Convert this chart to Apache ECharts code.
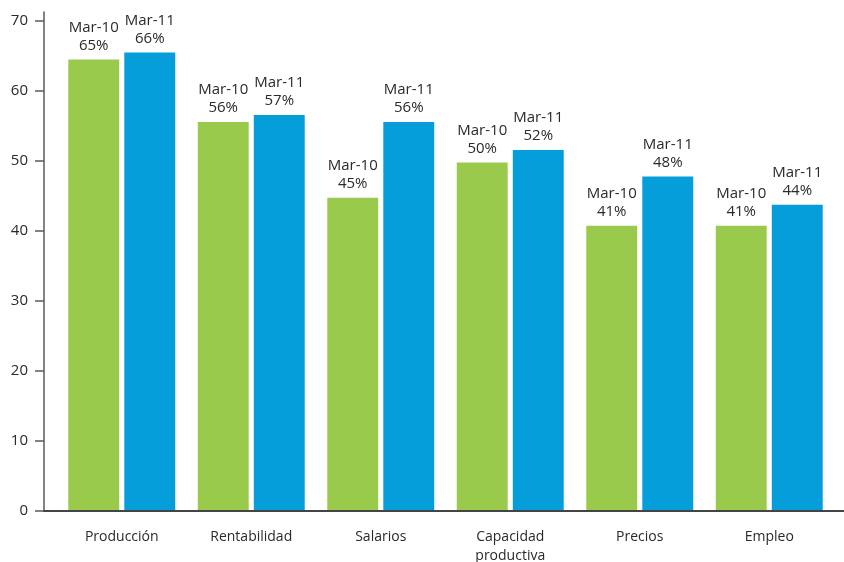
<!DOCTYPE html>
<html>
<head>
<meta charset="utf-8">
<script src="https://cdn.jsdelivr.net/npm/echarts@6/dist/echarts.min.js"></script>
<style>
html,body{margin:0;padding:0;background:#fff;}
#chart{width:844px;height:562px;}
</style>
</head>
<body>
<div id="chart"></div>
<script>
// Data
const categories = ['Producción', 'Rentabilidad', 'Salarios', 'Capacidad\nproductiva', 'Precios', 'Empleo'];
const seriesNames = ['Mar-10', 'Mar-11'];
const valuesMar10 = [64.4, 55.5, 44.7, 49.7, 40.7, 40.7];
const valuesMar11 = [65.4, 56.5, 55.5, 51.5, 47.7, 43.7];
const labelsMar10 = ['65%', '56%', '45%', '50%', '41%', '41%'];
const labelsMar11 = ['66%', '57%', '56%', '52%', '48%', '44%'];
const yTicks = { min: 0, max: 70, interval: 10 };

const FONT = '"Open Sans", "Noto Sans", sans-serif';
const TEXT = '#2a2a2a';

function barLabel(name, labels) {
  return {
    show: true,
    position: 'top',
    distance: 5,
    fontFamily: FONT,
    fontSize: 15,
    lineHeight: 18,
    color: TEXT,
    formatter: p => name + '\n' + labels[p.dataIndex]
  };
}

const chart = echarts.init(document.getElementById('chart'), null, { renderer: 'canvas' });
chart.setOption({
  animation: false,
  backgroundColor: '#fff',
  grid: [
    { left: 57, right: 10, top: 20.3, bottom: 51, containLabel: false, outerBoundsMode: 'none' },
    { left: 44, right: 0, top: 12, bottom: 51, containLabel: false, outerBoundsMode: 'none' }
  ],
  xAxis: [
    {
      type: 'category',
      gridIndex: 0,
      data: categories,
      axisLine: { show: false },
      axisTick: { show: false },
      axisLabel: {
        margin: 17,
        fontFamily: FONT,
        fontSize: 14,
        lineHeight: 19,
        color: TEXT,
        interval: 0
      }
    },
    {
      type: 'value',
      gridIndex: 1,
      min: 0, max: 1,
      z: 5,
      axisLine: { show: true, lineStyle: { color: '#444', width: 2 } },
      axisTick: { show: false },
      axisLabel: { show: false },
      splitLine: { show: false }
    }
  ],
  yAxis: [
    {
      type: 'value',
      gridIndex: 0,
      min: yTicks.min,
      max: yTicks.max,
      interval: yTicks.interval,
      offset: 13,
      axisLine: { show: false },
      axisTick: { show: true, length: 9, lineStyle: { color: '#5a5a5a', width: 1.5 } },
      axisLabel: { margin: 16, fontFamily: FONT, fontSize: 15, color: TEXT },
      splitLine: { show: false }
    },
    {
      type: 'value',
      gridIndex: 1,
      min: 0, max: 1,
      z: 5,
      axisLine: { show: true, lineStyle: { color: '#5a5a5a', width: 1.5 } },
      axisTick: { show: false },
      axisLabel: { show: false },
      splitLine: { show: false }
    }
  ],
  series: [
    {
      name: seriesNames[0],
      type: 'bar',
      xAxisIndex: 0, yAxisIndex: 0,
      data: valuesMar10,
      barGap: '10%',
      barCategoryGap: '17.4%',
      itemStyle: { color: '#9aca4b' },
      label: barLabel(seriesNames[0], labelsMar10)
    },
    {
      name: seriesNames[1],
      type: 'bar',
      xAxisIndex: 0, yAxisIndex: 0,
      data: valuesMar11,
      barGap: '10%',
      barCategoryGap: '17.4%',
      itemStyle: { color: '#069ddb' },
      label: barLabel(seriesNames[1], labelsMar11)
    }
  ]
});
</script>
</body>
</html>
